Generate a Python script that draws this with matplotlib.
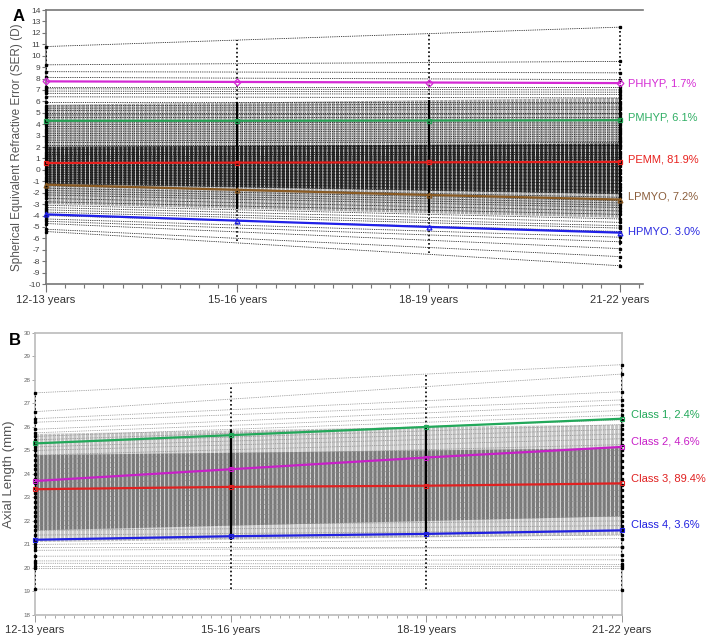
import matplotlib.pyplot as plt
from matplotlib.ticker import MultipleLocator

plt.rcParams['font.family'] = ['Liberation Sans', 'DejaVu Sans']
plt.rcParams['hatch.linewidth'] = 0.7
plt.rcParams['axes.unicode_minus'] = False

visits = [0, 1, 2, 3]
visit_labels = ['12-13 years', '15-16 years', '18-19 years', '21-22 years']

# ---- Panel A: spherical equivalent refraction (D) ----
ser_start = [10.8, 9.2, 8.6, 8.1, 7.3, 7.1, 6.9, 6.7, 6.4, 5.9, 5.6, 5.4, 5.2, 5.0,
             4.8, 4.6, 4.4, 4.2, 4.0, 3.8, 3.6, 3.4, 3.2, 3.0, 2.8, 2.6, 2.4, 2.2,
             2.0, 1.8, 1.6, 1.4, 1.2, 1.0, 0.8, 0.6, 0.4, 0.2, 0.0, -0.2, -0.4,
             -0.6, -0.8, -1.0, -1.2, -1.4, -1.6, -1.8, -2.0, -2.2, -2.5, -2.8,
             -3.1, -3.3, -3.5, -3.7, -4.0, -4.3, -4.5, -4.7, -5.2, -5.4]
ser_end = [12.5, 9.5, 8.5, 7.9, 7.3, 7.0, 6.8, 6.6, 6.3, 5.9, 5.8, 5.5, 5.3, 5.0,
           4.9, 4.6, 4.4, 4.1, 3.9, 3.7, 3.5, 3.3, 3.1, 2.9, 2.7, 2.5, 2.4, 2.2,
           2.1, 1.9, 1.6, 1.4, 1.1, 0.9, 0.7, 0.5, 0.3, 0.0, -0.3, -0.6, -0.9,
           -1.2, -1.5, -1.8, -2.1, -2.4, -2.7, -2.9, -3.1, -3.3, -3.6, -3.9,
           -4.3, -4.6, -4.9, -5.1, -5.4, -5.9, -6.3, -6.9, -7.6, -8.4]

# density bands of the individual trajectories
ser_outer_lo = [-3.0, -3.4, -3.8, -4.2]
ser_outer_hi = [5.7, 5.9, 6.1, 6.3]
ser_core_lo = [-1.2, -1.5, -1.8, -2.1]
ser_core_hi = [2.0, 2.1, 2.2, 2.3]
ser_col_lo = [-5.4, -6.2, -7.3, -8.4]
ser_col_hi = [10.8, 11.4, 12.0, 12.5]

ser_classes = ['PHHYP, 1.7%', 'PMHYP, 6.1%', 'PEMM, 81.9%', 'LPMYO, 7.2%', 'HPMYO. 3.0%']
ser_means = [
    [7.75, 7.7, 7.65, 7.6],
    [4.3, 4.3, 4.32, 4.35],
    [0.6, 0.63, 0.66, 0.7],
    [-1.3, -1.75, -2.2, -2.6],
    [-3.9, -4.45, -5.0, -5.5],
]
ser_colors = ['#d42ad4', '#22a052', '#e8211e', '#8a5a22', '#1f1fe8']
ser_text_colors = ['#d42ad4', '#2fae64', '#e8211e', '#8b5e3c', '#2a2ae0']
ser_markers = ['D', 's', 's', '^', '^']
ser_label_y = [7.6, 4.55, 0.95, -2.35, -5.4]

# ---- Panel B: axial length (mm) ----
al_start = [27.45, 26.65, 26.35, 26.2, 25.9, 25.75, 25.6, 25.45, 25.3, 25.15, 25.0,
            24.8, 24.6, 24.4, 24.2, 24.0, 23.8, 23.6, 23.4, 23.2, 23.0, 22.8, 22.6,
            22.4, 22.2, 22.0, 21.8, 21.6, 21.4, 21.2, 21.0, 20.9, 20.75, 20.5, 20.3,
            20.2, 20.1, 20.0, 19.1]
al_end = [28.65, 28.25, 27.5, 27.15, 26.95, 26.7, 26.5, 26.3, 26.1, 25.9, 25.7,
          25.5, 25.25, 25.0, 24.8, 24.55, 24.3, 24.05, 23.8, 23.55, 23.3, 23.05, 22.85,
          22.6, 22.4, 22.2, 22.0, 21.8, 21.6, 21.4, 21.25, 20.9, 20.9, 20.55, 20.35,
          20.15, 20.1, 20.0, 19.05]

al_outer_lo = [21.1, 21.2, 21.3, 21.4]
al_outer_hi = [25.7, 25.85, 26.0, 26.1]
al_core_lo = [21.6, 21.8, 22.0, 22.2]
al_core_hi = [24.8, 24.9, 25.0, 25.1]
al_col_lo = [19.1, 19.1, 19.1, 19.05]
al_col_hi = [27.45, 27.8, 28.2, 28.65]

al_classes = ['Class 1, 2.4%', 'Class 2, 4.6%', 'Class 3, 89.4%', 'Class 4, 3.6%']
al_means = [
    [25.3, 25.65, 26.0, 26.35],
    [23.7, 24.2, 24.7, 25.15],
    [23.35, 23.45, 23.5, 23.6],
    [21.2, 21.35, 21.45, 21.6],
]
al_colors = ['#22a85a', '#c81fc8', '#e02020', '#2020e0']
al_label_y = [26.55, 25.36, 23.79, 21.86]


def draw_panel(ax, start, end, outer_lo, outer_hi, core_lo, core_hi,
               col_lo, col_hi, line_color, outer_fc, core_fc):
    ax.fill_between(visits, outer_lo, outer_hi, facecolor=outer_fc,
                    edgecolor='white', hatch='||||', linewidth=0, zorder=1)
    ax.fill_between(visits, core_lo, core_hi, facecolor=core_fc,
                    edgecolor='#dddddd', hatch='||||', linewidth=0, zorder=1)
    for s, e in zip(start, end):
        ax.plot([0, 3], [s, e], color=line_color, lw=0.6,
                ls=(0, (1, 1.2)), zorder=2)
    ax.plot([0] * len(start), start, 's', ms=1.4, color='k', zorder=3, clip_on=False)
    ax.plot([3] * len(end), end, 's', ms=1.4, color='k', zorder=3, clip_on=False)
    # visit columns of observed points
    ax.vlines(visits, col_lo, col_hi, colors='k', lw=1.2,
              linestyles=(0, (1, 1.5)), zorder=3)
    ax.vlines(visits, outer_lo, outer_hi, colors='k', lw=1.6, zorder=3)


fig = plt.figure(figsize=(7.08, 6.42), dpi=100)

# Panel A
axA = fig.add_axes([0.065, 0.5576, 0.843, 0.4268])
draw_panel(axA, ser_start, ser_end, ser_outer_lo, ser_outer_hi, ser_core_lo,
           ser_core_hi, ser_col_lo, ser_col_hi, 'k', '#a8a8a8', '#2e2e2e')
for vals, col, mk in zip(ser_means, ser_colors, ser_markers):
    axA.plot(visits, vals, color=col, lw=1.6, zorder=5)
    axA.plot(visits, vals, ls='none', marker=mk, ms=3.5, mfc='none', mec=col,
             mew=0.9, zorder=6, clip_on=False)
for name, y, col in zip(ser_classes, ser_label_y, ser_text_colors):
    axA.text(3.04, y, name, color=col, fontsize=8, va='center', ha='left')

axA.set_xlim(0, 3.12)
axA.set_ylim(-10, 14)
axA.yaxis.set_major_locator(MultipleLocator(1))
axA.set_xticks(visits)
axA.set_xticklabels(visit_labels, fontsize=8, color='#333333')
axA.xaxis.set_minor_locator(MultipleLocator(0.1))
axA.tick_params(axis='y', labelsize=6, length=3, width=0.8, color='#777777',
                labelcolor='#444444', pad=1)
axA.tick_params(axis='x', which='major', length=6, width=0.8, color='#777777', pad=2)
axA.tick_params(axis='x', which='minor', length=3, width=0.8, color='#777777')
for side in ['left', 'bottom', 'top']:
    axA.spines[side].set_color('#777777')
    axA.spines[side].set_linewidth(1.2)
axA.spines['right'].set_visible(False)
axA.set_ylabel('Spherical Equivalent Refractive Error (SER) (D)', fontsize=8.5,
               color='#555555', labelpad=4)
fig.text(0.018, 0.968, 'A', fontsize=12, fontweight='bold')

# Panel B
axB = fig.add_axes([0.0494, 0.0421, 0.8291, 0.4393])
draw_panel(axB, al_start, al_end, al_outer_lo, al_outer_hi, al_core_lo,
           al_core_hi, al_col_lo, al_col_hi, '#8a8a8a', '#c4c4c4', '#7a7a7a')
for vals, col in zip(al_means, al_colors):
    axB.plot(visits, vals, color=col, lw=1.6, zorder=5)
    axB.plot(visits, vals, ls='none', marker='s', ms=3, mfc='none', mec=col,
             mew=0.8, zorder=6, clip_on=False)
for name, y, col in zip(al_classes, al_label_y, al_colors):
    axB.text(3.044, y, name, color=col, fontsize=8, va='center', ha='left')

axB.set_xlim(0, 3)
axB.set_ylim(18, 30)
axB.yaxis.set_major_locator(MultipleLocator(1))
axB.set_xticks(visits)
axB.set_xticklabels(visit_labels, fontsize=8, color='#333333')
axB.xaxis.set_minor_locator(MultipleLocator(0.05))
axB.tick_params(axis='y', labelsize=4.5, length=2, width=0.6, color='#999999',
                labelcolor='#666666', pad=1)
axB.tick_params(axis='x', which='major', length=5, width=0.7, color='#999999', pad=2)
axB.tick_params(axis='x', which='minor', length=2.5, width=0.6, color='#999999')
for side in axB.spines:
    axB.spines[side].set_color('#bbbbbb')
    axB.spines[side].set_linewidth(1.2)
axB.set_ylabel('Axial Length (mm)', fontsize=9.5, color='#555555', labelpad=6)
fig.text(0.012, 0.462, 'B', fontsize=12, fontweight='bold')

fig.savefig('out.png', dpi=100)
